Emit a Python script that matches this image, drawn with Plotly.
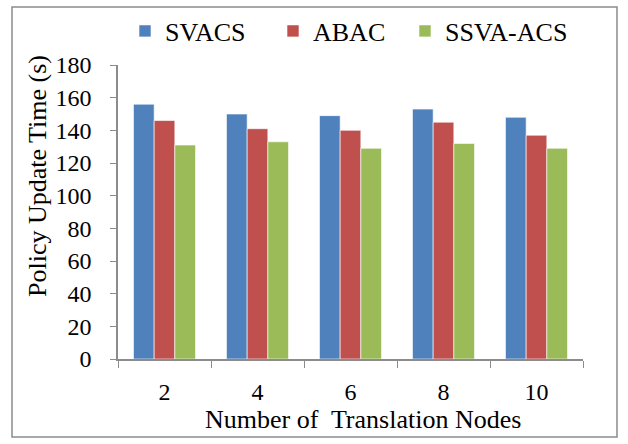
import plotly.graph_objects as go

categories = ["2", "4", "6", "8", "10"]
svacs = [156, 150, 149, 153, 148]
abac = [146, 141, 140, 145, 137]
ssva_acs = [131, 133, 129, 132, 129]
y_ticks = [0, 20, 40, 60, 80, 100, 120, 140, 160, 180]

FONT = "Liberation Serif"
colors = ["#4F81BD", "#C0504D", "#9BBB59"]
names = ["SVACS", "ABAC", "SSVA-ACS"]
legend_ids = ["legend", "legend2", "legend3"]

W, H = 628, 444
L, R, T, B = 118, 45, 65, 85
pw, ph = W - L - R, H - T - B

def px(x):
    return (x - L) / pw

def py(y):
    return (H - B - y) / ph

fig = go.Figure()
for name, vals, c, lg in zip(names, [svacs, abac, ssva_acs], colors, legend_ids):
    fig.add_trace(go.Bar(x=categories, y=vals, name=name, legend=lg,
                         marker=dict(color=c, line=dict(color="rgba(255,255,255,0.6)", width=1))))

fig.add_shape(type="rect", xref="paper", yref="paper",
              x0=px(12), x1=px(617), y0=py(437), y1=py(7),
              line=dict(color="#8C8C8C", width=1.5), fillcolor="rgba(0,0,0,0)")

fig.add_annotation(text="Policy Update Time (s)", textangle=-90, showarrow=False,
                   xref="paper", yref="paper", x=px(37), y=py(176),
                   xanchor="center", yanchor="middle", font=dict(size=26, family=FONT))
fig.add_annotation(text="Number of  Translation Nodes", showarrow=False,
                   xref="paper", yref="paper", x=px(363), y=py(420),
                   xanchor="center", yanchor="middle", font=dict(size=26, family=FONT))

legend_x = [125, 273, 405]
leg_common = dict(orientation="h", yanchor="middle", xanchor="left",
                  font=dict(size=26, family=FONT), itemwidth=30, bgcolor="rgba(0,0,0,0)")
legends = {}
for lg, lx in zip(legend_ids, legend_x):
    legends[lg] = dict(leg_common, x=px(lx), y=py(31))

fig.update_layout(
    width=W, height=H,
    margin=dict(l=L, r=R, t=T, b=B, autoexpand=False),
    paper_bgcolor="white", plot_bgcolor="white",
    barmode="group", bargap=0.333, bargroupgap=0,
    font=dict(family=FONT, size=24, color="black"),
    showlegend=True,
    xaxis=dict(type="category", tickson="boundaries", ticks="outside", ticklen=7,
               tickcolor="#8C8C8C", showline=True, linecolor="#8C8C8C", linewidth=1.5,
               showgrid=False, tickfont=dict(size=24), automargin=False,
               ticklabelstandoff=10),
    yaxis=dict(range=[0, 180], tickvals=y_ticks, ticks="outside", ticklen=6,
               tickcolor="#8C8C8C", showline=True, linecolor="#8C8C8C", linewidth=1.5,
               showgrid=False, zeroline=False, tickfont=dict(size=24), automargin=False,
               ticklabelposition="outside", ticklabelstandoff=14),
)
fig.update_layout(**legends)

fig.write_html("out.html", post_script="document.body.style.margin='0';",
               config={"displayModeBar": False})
